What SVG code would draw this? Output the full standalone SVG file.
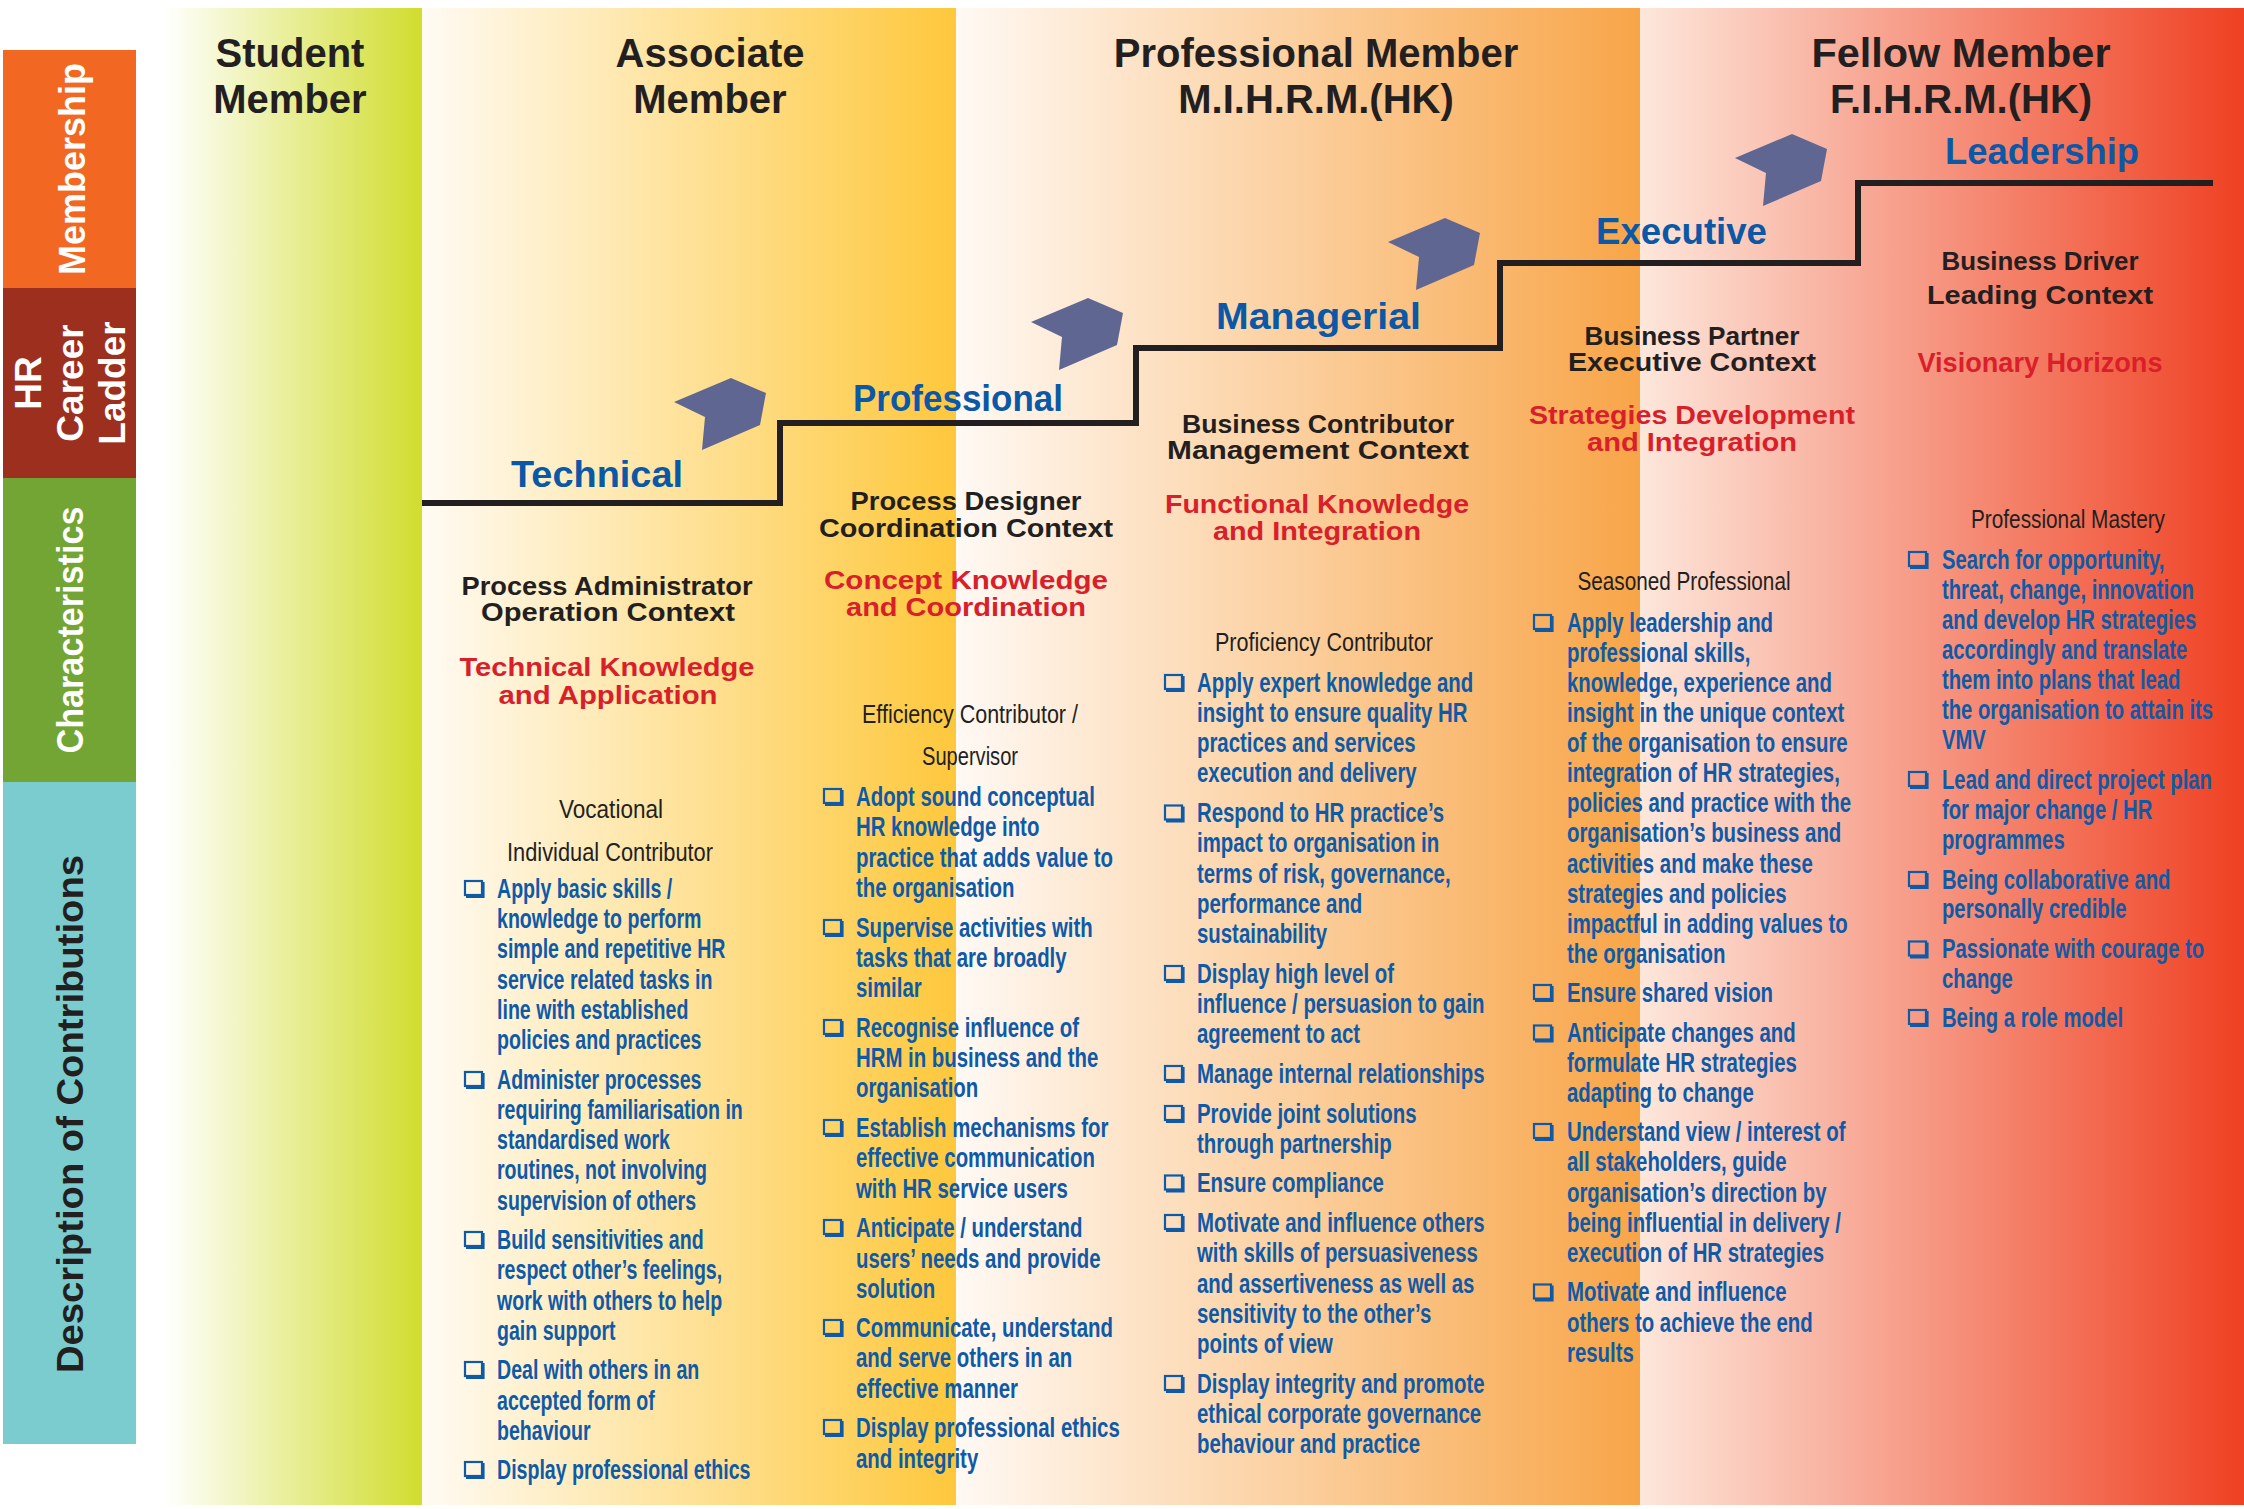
<svg xmlns="http://www.w3.org/2000/svg" width="2244" height="1509" viewBox="0 0 2244 1509">
<style>
text{font-family:"Liberation Sans",Arial,sans-serif}
.hdr{font-weight:bold;font-size:40px;fill:#231f20;text-anchor:middle}
.lvl{font-weight:bold;font-size:37px;fill:#0b58a6}
.ch{font-weight:bold;font-size:25px;fill:#231f20;text-anchor:middle}
.rd{font-weight:bold;font-size:25px;fill:#d9202a;text-anchor:middle}
.sub{font-size:26px;fill:#231f20;text-anchor:middle}
.bd{font-weight:bold;font-size:27px;fill:#0e5aa7}
.side{font-weight:bold;fill:#ffffff;text-anchor:middle}
</style>
<defs>
<linearGradient id="gS" gradientUnits="userSpaceOnUse" x1="150" y1="0" x2="422" y2="0"><stop offset="0" stop-color="#ffffff"/><stop offset="0.05" stop-color="#ffffff"/><stop offset="1" stop-color="#d1dd2e"/></linearGradient>
<linearGradient id="gA" gradientUnits="userSpaceOnUse" x1="422" y1="0" x2="956" y2="0"><stop offset="0" stop-color="#fffbf4"/><stop offset="1" stop-color="#fec83c"/></linearGradient>
<linearGradient id="gP" gradientUnits="userSpaceOnUse" x1="956" y1="0" x2="1640" y2="0"><stop offset="0" stop-color="#fff9f4"/><stop offset="1" stop-color="#f8a548"/></linearGradient>
<linearGradient id="gF" gradientUnits="userSpaceOnUse" x1="1640" y1="0" x2="2244" y2="0"><stop offset="0" stop-color="#fde7db"/><stop offset="1" stop-color="#ef4022"/></linearGradient>
<g id="bx"><rect x="1" y="1" width="17" height="14" fill="none" stroke="#0e5aa7" stroke-width="2.2"/><path d="M19 2 V16.5 H2" fill="none" stroke="#0e5aa7" stroke-width="3.2"/></g>
<path id="arw" d="M0,24 L57,0 L92,15 L86,47 L28,72 L31,39 Z" fill="#5f6691"/>
</defs>

<g id="backgrounds">
<rect x="0" y="0" width="2244" height="1509" fill="#ffffff"/>
<rect x="150" y="8" width="272" height="1497" fill="url(#gS)"/>
<rect x="422" y="8" width="534" height="1497" fill="url(#gA)"/>
<rect x="956" y="8" width="684" height="1497" fill="url(#gP)"/>
<rect x="1640" y="8" width="604" height="1497" fill="url(#gF)"/>
</g>

<g id="sidebar">
<rect x="3" y="50" width="133" height="238" fill="#f26722"/>
<rect x="3" y="288" width="133" height="190" fill="#9d2f1f"/>
<rect x="3" y="478" width="133" height="304" fill="#72a533"/>
<rect x="3" y="782" width="133" height="662" fill="#7accce"/>
<text class="side" font-size="36" transform="translate(85,169) rotate(-90)">Membership</text>
<text class="side" font-size="37" transform="translate(41,383) rotate(-90)">HR</text>
<text class="side" font-size="37" transform="translate(83,383) rotate(-90)">Career</text>
<text class="side" font-size="37" transform="translate(125,383) rotate(-90)">Ladder</text>
<text class="side" font-size="37" textLength="247" lengthAdjust="spacingAndGlyphs" transform="translate(83,630) rotate(-90)">Characteristics</text>
<text class="side" font-size="37" textLength="518" lengthAdjust="spacingAndGlyphs" style="fill:#231f20" transform="translate(83,1114) rotate(-90)">Description of Contributions</text>
</g>

<g id="headers">
<text class="hdr" x="290" y="67">Student</text>
<text class="hdr" x="290" y="113">Member</text>
<text class="hdr" x="710" y="67">Associate</text>
<text class="hdr" x="710" y="113">Member</text>
<text class="hdr" x="1316" y="67">Professional Member</text>
<text class="hdr" x="1316" y="113">M.I.H.R.M.(HK)</text>
<text class="hdr" x="1961" y="67" textLength="299" lengthAdjust="spacingAndGlyphs">Fellow Member</text>
<text class="hdr" x="1961" y="113">F.I.H.R.M.(HK)</text>
</g>

<g id="connectors">
<path d="M422 503 H780 V423 H1136 V348 H1500 V263 H1858 V183 H2213" fill="none" stroke="#231f20" stroke-width="6"/>
<use href="#arw" x="674" y="378"/>
<use href="#arw" x="1031" y="298"/>
<use href="#arw" x="1388" y="218"/>
<use href="#arw" x="1735" y="134"/>
</g>

<g id="levels">
<text class="lvl" x="511" y="487" textLength="172" lengthAdjust="spacingAndGlyphs">Technical</text>
<text class="lvl" x="853" y="411" textLength="210" lengthAdjust="spacingAndGlyphs">Professional</text>
<text class="lvl" x="1216" y="329" textLength="205" lengthAdjust="spacingAndGlyphs">Managerial</text>
<text class="lvl" x="1596" y="244" textLength="171" lengthAdjust="spacingAndGlyphs">Executive</text>
<text class="lvl" x="1945" y="164" textLength="194" lengthAdjust="spacingAndGlyphs">Leadership</text>
</g>

<g id="col-technical">
<text class="ch" x="607" y="595" textLength="291" lengthAdjust="spacingAndGlyphs">Process Administrator</text>
<text class="ch" x="608" y="621" textLength="254" lengthAdjust="spacingAndGlyphs">Operation Context</text>
<text class="rd" x="607" y="676" textLength="295" lengthAdjust="spacingAndGlyphs">Technical Knowledge</text>
<text class="rd" x="608" y="704" textLength="219" lengthAdjust="spacingAndGlyphs">and Application</text>
<text class="sub" x="611" y="818" textLength="104" lengthAdjust="spacingAndGlyphs">Vocational</text>
<text class="sub" x="610" y="861" textLength="206" lengthAdjust="spacingAndGlyphs">Individual Contributor</text>
<use href="#bx" x="464" y="880"/>
<use href="#bx" x="464" y="1071"/>
<use href="#bx" x="464" y="1231"/>
<use href="#bx" x="464" y="1361"/>
<use href="#bx" x="464" y="1461"/>
<g transform="translate(497 0) scale(0.725 1)">
<text class="bd" x="0" y="898">Apply basic skills /</text>
<text class="bd" x="0" y="928">knowledge to perform</text>
<text class="bd" x="0" y="958.5">simple and repetitive HR</text>
<text class="bd" x="0" y="989">service related tasks in</text>
<text class="bd" x="0" y="1019">line with established</text>
<text class="bd" x="0" y="1049.5">policies and practices</text>
<text class="bd" x="0" y="1089">Administer processes</text>
<text class="bd" x="0" y="1119">requiring familiarisation in</text>
<text class="bd" x="0" y="1149.5">standardised work</text>
<text class="bd" x="0" y="1179.5">routines, not involving</text>
<text class="bd" x="0" y="1210">supervision of others</text>
<text class="bd" x="0" y="1249">Build sensitivities and</text>
<text class="bd" x="0" y="1279">respect other’s feelings,</text>
<text class="bd" x="0" y="1310">work with others to help</text>
<text class="bd" x="0" y="1340">gain support</text>
<text class="bd" x="0" y="1379">Deal with others in an</text>
<text class="bd" x="0" y="1410">accepted form of</text>
<text class="bd" x="0" y="1440">behaviour</text>
<text class="bd" x="0" y="1479">Display professional ethics</text>
</g>
</g>

<g id="col-professional">
<text class="ch" x="966" y="510" textLength="231" lengthAdjust="spacingAndGlyphs">Process Designer</text>
<text class="ch" x="966" y="537" textLength="294" lengthAdjust="spacingAndGlyphs">Coordination Context</text>
<text class="rd" x="966" y="589" textLength="284" lengthAdjust="spacingAndGlyphs">Concept Knowledge</text>
<text class="rd" x="966" y="616" textLength="240" lengthAdjust="spacingAndGlyphs">and Coordination</text>
<text class="sub" x="970" y="723" textLength="216" lengthAdjust="spacingAndGlyphs">Efficiency Contributor /</text>
<text class="sub" x="970" y="765" textLength="96" lengthAdjust="spacingAndGlyphs">Supervisor</text>
<use href="#bx" x="823" y="788"/>
<use href="#bx" x="823" y="919"/>
<use href="#bx" x="823" y="1019"/>
<use href="#bx" x="823" y="1119"/>
<use href="#bx" x="823" y="1219"/>
<use href="#bx" x="823" y="1319"/>
<use href="#bx" x="823" y="1419"/>
<g transform="translate(856 0) scale(0.755 1)">
<text class="bd" x="0" y="806">Adopt sound conceptual</text>
<text class="bd" x="0" y="836">HR knowledge into</text>
<text class="bd" x="0" y="867">practice that adds value to</text>
<text class="bd" x="0" y="897">the organisation</text>
<text class="bd" x="0" y="937">Supervise activities with</text>
<text class="bd" x="0" y="967">tasks that are broadly</text>
<text class="bd" x="0" y="997">similar</text>
<text class="bd" x="0" y="1037">Recognise influence of</text>
<text class="bd" x="0" y="1067">HRM in business and the</text>
<text class="bd" x="0" y="1097">organisation</text>
<text class="bd" x="0" y="1137">Establish mechanisms for</text>
<text class="bd" x="0" y="1167">effective communication</text>
<text class="bd" x="0" y="1198">with HR service users</text>
<text class="bd" x="0" y="1237">Anticipate / understand</text>
<text class="bd" x="0" y="1268">users’ needs and provide</text>
<text class="bd" x="0" y="1298">solution</text>
<text class="bd" x="0" y="1337">Communicate, understand</text>
<text class="bd" x="0" y="1367">and serve others in an</text>
<text class="bd" x="0" y="1398">effective manner</text>
<text class="bd" x="0" y="1437">Display professional ethics</text>
<text class="bd" x="0" y="1468">and integrity</text>
</g>
</g>

<g id="col-managerial">
<text class="ch" x="1318" y="433" textLength="272" lengthAdjust="spacingAndGlyphs">Business Contributor</text>
<text class="ch" x="1318" y="459" textLength="302" lengthAdjust="spacingAndGlyphs">Management Context</text>
<text class="rd" x="1317" y="513" textLength="304" lengthAdjust="spacingAndGlyphs">Functional Knowledge</text>
<text class="rd" x="1317" y="540" textLength="208" lengthAdjust="spacingAndGlyphs">and Integration</text>
<text class="sub" x="1324" y="651" textLength="218" lengthAdjust="spacingAndGlyphs">Proficiency Contributor</text>
<use href="#bx" x="1164" y="674"/>
<use href="#bx" x="1164" y="804.5"/>
<use href="#bx" x="1164" y="965"/>
<use href="#bx" x="1164" y="1065"/>
<use href="#bx" x="1164" y="1105"/>
<use href="#bx" x="1164" y="1174.5"/>
<use href="#bx" x="1164" y="1214"/>
<use href="#bx" x="1164" y="1375"/>
<g transform="translate(1197 0) scale(0.755 1)">
<text class="bd" x="0" y="692">Apply expert knowledge and</text>
<text class="bd" x="0" y="722">insight to ensure quality HR</text>
<text class="bd" x="0" y="752.5">practices and services</text>
<text class="bd" x="0" y="782">execution and delivery</text>
<text class="bd" x="0" y="822.5">Respond to HR practice’s</text>
<text class="bd" x="0" y="852.5">impact to organisation in</text>
<text class="bd" x="0" y="883">terms of risk, governance,</text>
<text class="bd" x="0" y="913">performance and</text>
<text class="bd" x="0" y="943">sustainability</text>
<text class="bd" x="0" y="983">Display high level of</text>
<text class="bd" x="0" y="1013">influence / persuasion to gain</text>
<text class="bd" x="0" y="1043.5">agreement to act</text>
<text class="bd" x="0" y="1083">Manage internal relationships</text>
<text class="bd" x="0" y="1123">Provide joint solutions</text>
<text class="bd" x="0" y="1153">through partnership</text>
<text class="bd" x="0" y="1192.5">Ensure compliance</text>
<text class="bd" x="0" y="1232">Motivate and influence others</text>
<text class="bd" x="0" y="1262.5">with skills of persuasiveness</text>
<text class="bd" x="0" y="1293">and assertiveness as well as</text>
<text class="bd" x="0" y="1323">sensitivity to the other’s</text>
<text class="bd" x="0" y="1353">points of view</text>
<text class="bd" x="0" y="1393">Display integrity and promote</text>
<text class="bd" x="0" y="1423">ethical corporate governance</text>
<text class="bd" x="0" y="1453">behaviour and practice</text>
</g>
</g>

<g id="col-executive">
<text class="ch" x="1692" y="345" textLength="215" lengthAdjust="spacingAndGlyphs">Business Partner</text>
<text class="ch" x="1692" y="371" textLength="248" lengthAdjust="spacingAndGlyphs">Executive Context</text>
<text class="rd" x="1692" y="424" textLength="326" lengthAdjust="spacingAndGlyphs">Strategies Development</text>
<text class="rd" x="1692" y="451" textLength="210" lengthAdjust="spacingAndGlyphs">and Integration</text>
<text class="sub" x="1684" y="590" textLength="213" lengthAdjust="spacingAndGlyphs">Seasoned Professional</text>
<use href="#bx" x="1533" y="614"/>
<use href="#bx" x="1533" y="984"/>
<use href="#bx" x="1533" y="1024.5"/>
<use href="#bx" x="1533" y="1123"/>
<use href="#bx" x="1533" y="1283.5"/>
<g transform="translate(1567 0) scale(0.755 1)">
<text class="bd" x="0" y="632">Apply leadership and</text>
<text class="bd" x="0" y="662">professional skills,</text>
<text class="bd" x="0" y="692">knowledge, experience and</text>
<text class="bd" x="0" y="722.5">insight in the unique context</text>
<text class="bd" x="0" y="752.5">of the organisation to ensure</text>
<text class="bd" x="0" y="782.5">integration of HR strategies,</text>
<text class="bd" x="0" y="812.5">policies and practice with the</text>
<text class="bd" x="0" y="842.5">organisation’s business and</text>
<text class="bd" x="0" y="873">activities and make these</text>
<text class="bd" x="0" y="903">strategies and policies</text>
<text class="bd" x="0" y="933">impactful in adding values to</text>
<text class="bd" x="0" y="963">the organisation</text>
<text class="bd" x="0" y="1002">Ensure shared vision</text>
<text class="bd" x="0" y="1042.5">Anticipate changes and</text>
<text class="bd" x="0" y="1072">formulate HR strategies</text>
<text class="bd" x="0" y="1102">adapting to change</text>
<text class="bd" x="0" y="1141">Understand view / interest of</text>
<text class="bd" x="0" y="1171">all stakeholders, guide</text>
<text class="bd" x="0" y="1202">organisation’s direction by</text>
<text class="bd" x="0" y="1232">being influential in delivery /</text>
<text class="bd" x="0" y="1262.5">execution of HR strategies</text>
<text class="bd" x="0" y="1301.5">Motivate and influence</text>
<text class="bd" x="0" y="1332">others to achieve the end</text>
<text class="bd" x="0" y="1362">results</text>
</g>
</g>

<g id="col-leadership">
<text class="ch" x="2040" y="270" textLength="197" lengthAdjust="spacingAndGlyphs" style="font-size:26px">Business Driver</text>
<text class="ch" x="2040" y="304" textLength="226" lengthAdjust="spacingAndGlyphs" style="font-size:26px">Leading Context</text>
<text class="rd" x="2040" y="372" textLength="245" lengthAdjust="spacingAndGlyphs" style="font-size:27px">Visionary Horizons</text>
<text class="sub" x="2068" y="528" textLength="194" lengthAdjust="spacingAndGlyphs">Professional Mastery</text>
<use href="#bx" x="1908" y="551"/>
<use href="#bx" x="1908" y="771"/>
<use href="#bx" x="1908" y="871"/>
<use href="#bx" x="1908" y="940.5"/>
<use href="#bx" x="1908" y="1009"/>
<g transform="translate(1942 0) scale(0.75 1)">
<text class="bd" x="0" y="569">Search for opportunity,</text>
<text class="bd" x="0" y="599">threat, change, innovation</text>
<text class="bd" x="0" y="629">and develop HR strategies</text>
<text class="bd" x="0" y="659">accordingly and translate</text>
<text class="bd" x="0" y="689">them into plans that lead</text>
<text class="bd" x="0" y="719.5">the organisation to attain its</text>
<text class="bd" x="0" y="749.5">VMV</text>
<text class="bd" x="0" y="789">Lead and direct project plan</text>
<text class="bd" x="0" y="819">for major change / HR</text>
<text class="bd" x="0" y="849">programmes</text>
<text class="bd" x="0" y="889">Being collaborative and</text>
<text class="bd" x="0" y="918.5">personally credible</text>
<text class="bd" x="0" y="958.5">Passionate with courage to</text>
<text class="bd" x="0" y="988">change</text>
<text class="bd" x="0" y="1027">Being a role model</text>
</g>
</g>
</svg>
